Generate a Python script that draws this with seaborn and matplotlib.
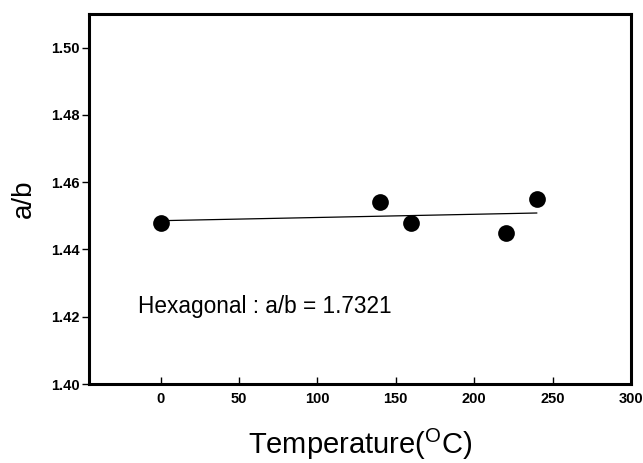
import matplotlib
matplotlib.use("Agg")
import matplotlib.pyplot as plt
import seaborn as sns
import numpy as np
import pandas as pd

temperature = [0, 140, 160, 220, 240]
ratio = [1.448, 1.454, 1.448, 1.445, 1.455]
x_ticks = [0, 50, 100, 150, 200, 250, 300]
y_ticks = [1.40, 1.42, 1.44, 1.46, 1.48, 1.50]
annotation = "Hexagonal : a/b = 1.7321"

sns.set_style("ticks")
plt.rcParams["font.family"] = ["Liberation Sans", "DejaVu Sans"]
plt.rcParams["mathtext.fontset"] = "custom"
plt.rcParams["mathtext.rm"] = "Liberation Sans"
plt.rcParams["text.color"] = "black"
plt.rcParams["axes.labelcolor"] = "black"
plt.rcParams["xtick.color"] = "black"
plt.rcParams["ytick.color"] = "black"

df = pd.DataFrame({"T": temperature, "ab": ratio})

fig = plt.figure(figsize=(6.43, 4.63), dpi=100)
ax = fig.add_axes([88.5 / 643, 79 / 463, (631 - 88.5) / 643, (384 - 14) / 463])

sns.regplot(data=df, x="T", y="ab", scatter=False, ci=None, ax=ax,
            line_kws=dict(color="black", lw=0.9))
sns.scatterplot(data=df, x="T", y="ab", ax=ax, color="black", s=145,
                edgecolor="black", linewidth=0, zorder=3)

ax.set_xlim(-46, 300)
ax.set_ylim(1.40, 1.51)
ax.set_xticks(x_ticks)
ax.set_yticks(y_ticks)
ax.set_xticklabels([str(t) for t in x_ticks], fontsize=10.5, fontweight="bold", color="black")
ax.set_yticklabels([f"{t:.2f}" for t in y_ticks], fontsize=10.5, fontweight="bold", color="black")
ax.tick_params(axis="x", direction="in", length=5, width=1, pad=6, color="black")
ax.tick_params(axis="y", direction="out", length=5, width=1, pad=1.5, color="black")

for side in ["left", "right", "top", "bottom"]:
    ax.spines[side].set_visible(True)
    ax.spines[side].set_linewidth(2.2)
    ax.spines[side].set_color("black")

ax.set_xlabel(r"Temperature($^{\mathregular{O}}$C)", fontsize=21, labelpad=15, color="black")
ax.set_ylabel("a/b", fontsize=20, labelpad=10, color="black")

ax.text(-14.5, 1.4211, annotation, fontsize=16.3, va="baseline", ha="left", color="black")

fig.savefig("out.png", dpi=100)
